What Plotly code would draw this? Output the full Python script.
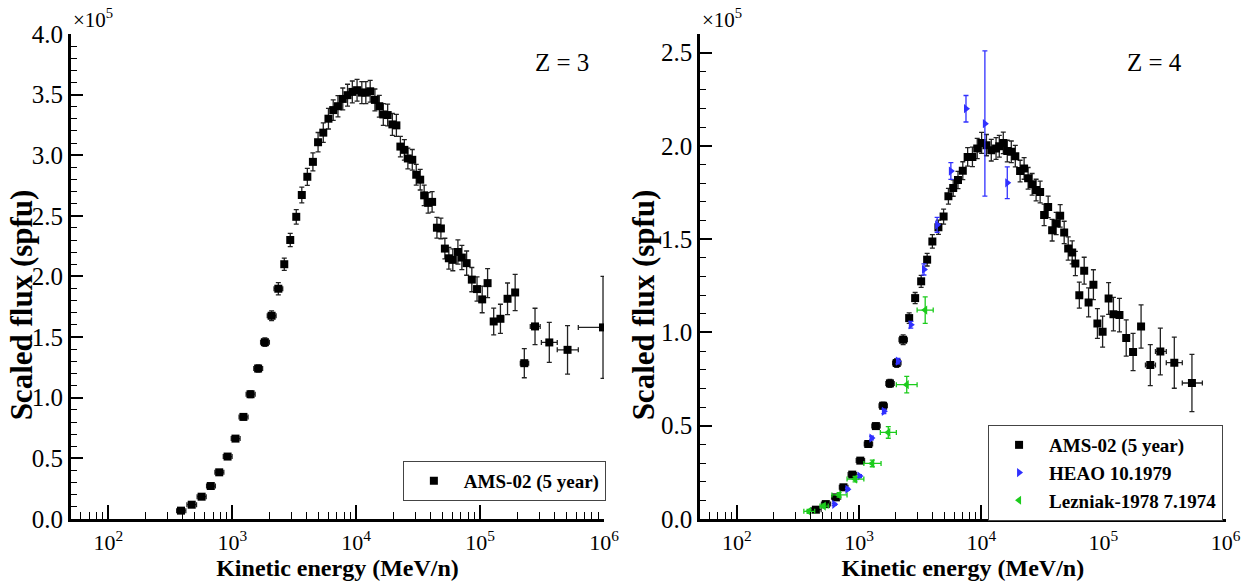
import plotly.graph_objects as go

# ---------------- Data (flux values in units of 1e5 spfu) ----------------
# Z = 3, AMS-02 (5 year)
z3_energy = [386, 471, 566, 671, 785, 917, 1062, 1231, 1405, 1618, 1834, 2078, 2355,
             2630, 2938, 3286, 3642, 4036, 4477, 4928, 5429, 5976, 6531, 7133, 7796,
             8519, 9310, 10170, 11110, 11970, 12980, 14170, 15380, 16560, 17960, 19600,
             21120, 22750, 24490, 26140, 28370, 30540, 32870, 35390, 38100, 41020, 44850,
             48300, 52000, 55990, 60270, 66250, 71300, 77900, 85800, 94500, 104000, 115000,
             128800, 146000, 166600, 191900, 227500, 277600, 362000, 508000, 982000]
z3_flux = [0.069, 0.118, 0.184, 0.272, 0.385, 0.515, 0.663, 0.842, 1.029, 1.241, 1.458, 1.676, 1.899,
           2.101, 2.301, 2.492, 2.672, 2.822, 2.945, 3.107, 3.186, 3.301, 3.372, 3.404, 3.464,
           3.495, 3.522, 3.536, 3.516, 3.516, 3.527, 3.456, 3.404, 3.336, 3.331, 3.254,
           3.246, 3.071, 3.044, 2.973, 2.962, 2.839, 2.798, 2.669, 2.607, 2.615, 2.402,
           2.396, 2.230, 2.150, 2.137, 2.202, 2.156, 2.110, 1.974, 1.896, 1.811, 1.945,
           1.629, 1.651, 1.816, 1.868, 1.285, 1.588, 1.456, 1.395, 1.580]
z3_err = [0.01, 0.012, 0.014, 0.016, 0.018, 0.02, 0.022, 0.025, 0.028, 0.03, 0.035, 0.04, 0.05,
          0.05, 0.055, 0.06, 0.065, 0.07, 0.075, 0.08, 0.08, 0.085, 0.085, 0.088, 0.09,
          0.09, 0.09, 0.09, 0.09, 0.09, 0.09, 0.09, 0.09, 0.09, 0.09, 0.09,
          0.09, 0.085, 0.085, 0.085, 0.085, 0.085, 0.085, 0.085, 0.085, 0.085, 0.085,
          0.085, 0.085, 0.09, 0.09, 0.1, 0.1, 0.1, 0.1, 0.1, 0.11, 0.12,
          0.11, 0.12, 0.13, 0.15, 0.12, 0.15, 0.165, 0.2, 0.42]
z3_ex_lo = [30, 40, 45, 50, 60, 70, 80, 95, 110, 125, 140, 160, 180] + [0] * 49 + \
           [16200, 23300, 49500, 88400, 361500]
z3_ex_hi = [36, 44, 50, 60, 70, 80, 95, 110, 125, 140, 160, 180, 200] + [0] * 49 + \
           [19100, 28000, 57600, 112500, 500000]

# Z = 4, AMS-02 (5 year)
z4_energy = [443, 534, 646, 745, 879, 1023, 1189, 1373, 1573, 1788, 2032, 2294, 2570, 2877, 3222,
             3607, 3980, 4460, 4918, 5385, 5895, 6450, 7063, 7737, 8468, 9271, 10070, 11030,
             12080, 13220, 14050, 15150, 16330, 17620, 19000, 20800, 22430, 24190, 26090,
             28120, 30340, 32720, 35290, 38050, 41040, 44260, 47740, 51490, 55530, 58950,
             63500, 69610, 75620, 82820, 89300, 98500, 110300, 120800, 135300, 153700,
             174900, 203400, 242000, 292400, 380400, 530500]
z4_flux = [0.050, 0.080, 0.116, 0.170, 0.238, 0.313, 0.402, 0.498, 0.607, 0.727, 0.836, 0.961,
           1.077, 1.184, 1.274, 1.390, 1.488, 1.564, 1.621, 1.730, 1.774, 1.817, 1.867, 1.941,
           1.941, 1.986, 2.016, 2.004, 1.977, 1.986, 1.998, 2.016, 1.972, 1.968, 1.945, 1.865,
           1.879, 1.826, 1.794, 1.763, 1.753, 1.630, 1.673, 1.548, 1.584, 1.625, 1.536, 1.450,
           1.429, 1.370, 1.200, 1.331, 1.161, 1.256, 1.048, 1.004, 1.182, 1.098, 1.093, 0.970,
           0.895, 1.032, 0.825, 0.898, 0.838, 0.729]
z4_err = [0.008, 0.009, 0.01, 0.011, 0.012, 0.013, 0.015, 0.017, 0.019, 0.021, 0.023, 0.026,
          0.028, 0.03, 0.032, 0.034, 0.036, 0.038, 0.04, 0.042, 0.044, 0.046, 0.048, 0.05,
          0.052, 0.054, 0.056, 0.057, 0.058, 0.058, 0.058, 0.058, 0.058, 0.058, 0.058, 0.058,
          0.058, 0.058, 0.058, 0.058, 0.058, 0.058, 0.058, 0.058, 0.06, 0.06, 0.06, 0.062,
          0.062, 0.065, 0.07, 0.072, 0.078, 0.08, 0.08, 0.083, 0.085, 0.09, 0.09, 0.097,
          0.1, 0.116, 0.11, 0.125, 0.137, 0.153]
z4_ex_lo = [36, 42, 50, 55, 65, 75, 85, 100, 115, 130, 150, 170] + [0] * 50 + \
           [21200, 25700, 53300, 88200]
z4_ex_hi = [46, 50, 60, 65, 75, 85, 100, 115, 130, 150, 170, 190] + [0] * 50 + \
           [24700, 34700, 61900, 115200]

# Z = 4, HEAO 10.1979
heao_energy = [627, 803, 1008, 1264, 1596, 2080, 2650, 3397, 4355, 5640, 7500, 10710, 16330]
heao_flux = [0.0786, 0.159, 0.230, 0.434, 0.577, 0.846, 1.041, 1.338, 1.577, 1.865, 2.199, 2.119, 1.802]
heao_err_hi = [0.005, 0.006, 0.008, 0.01, 0.012, 0.015, 0.018, 0.03, 0.04, 0.045, 0.071, 0.39, 0.085]
heao_err_lo = [0.005, 0.006, 0.008, 0.01, 0.012, 0.015, 0.018, 0.03, 0.04, 0.045, 0.071, 0.388, 0.085]

# Z = 4, Lezniak-1978 7.1974
lez_energy = [389, 514, 686, 927, 1282, 1734, 2455, 3476]
lez_flux = [0.041, 0.0696, 0.129, 0.214, 0.298, 0.464, 0.720, 1.120]
lez_err = [0.01, 0.01, 0.012, 0.015, 0.018, 0.031, 0.044, 0.071]
lez_ex_lo = [36, 35, 87, 130, 188, 241, 437, 491]
lez_ex_hi = [44, 45, 111, 167, 231, 284, 530, 568]

# axis tick positions
major_x = [1e2, 1e3, 1e4, 1e5, 1e6]
minor_x = [m * 10 ** d for d in range(1, 6) for m in range(2, 10) if 50 <= m * 10 ** d < 1e6]

# ---------------- Figure ----------------
FONT = "Liberation Serif"
fig = go.Figure()

def ebar(arr, arrm, color):
    return dict(type="data", symmetric=False, array=arr, arrayminus=arrm,
                color=color, thickness=1.3, width=2.5, visible=True)

fig.add_trace(go.Scatter(
    x=z3_energy, y=z3_flux, mode="markers", name="<b>AMS-02 (5 year)</b>",
    marker=dict(symbol="square", size=8, color="black"),
    error_y=ebar(z3_err, z3_err, "#222222"),
    error_x=ebar(z3_ex_hi, z3_ex_lo, "#222222"),
    xaxis="x", yaxis="y", legend="legend"))

fig.add_trace(go.Scatter(
    x=z4_energy, y=z4_flux, mode="markers", name="<b>AMS-02 (5 year)</b>",
    marker=dict(symbol="square", size=8, color="black"),
    error_y=ebar(z4_err, z4_err, "#222222"),
    error_x=ebar(z4_ex_hi, z4_ex_lo, "#222222"),
    xaxis="x2", yaxis="y2", legend="legend2"))

fig.add_trace(go.Scatter(
    x=heao_energy, y=heao_flux, mode="markers", name="<b>HEAO 10.1979</b>",
    marker=dict(symbol="triangle-right", size=8, color="#3030ff"),
    error_y=ebar(heao_err_hi, heao_err_lo, "#3030ff"),
    xaxis="x2", yaxis="y2", legend="legend2"))

fig.add_trace(go.Scatter(
    x=lez_energy, y=lez_flux, mode="markers", name="<b>Lezniak-1978 7.1974</b>",
    marker=dict(symbol="triangle-left", size=8, color="#1ccc1c"),
    error_y=ebar(lez_err, lez_err, "#1ccc1c"),
    error_x=ebar(lez_ex_hi, lez_ex_lo, "#1ccc1c"),
    xaxis="x2", yaxis="y2", legend="legend2"))

xtickfont = dict(family=FONT, size=22, color="black")
ytickfont = dict(family=FONT, size=25, color="black")
titlefont = dict(family=FONT, size=24, color="black")

def xax(domain, anchor):
    return dict(type="log", domain=domain, anchor=anchor, range=[1.69897, 6.0],
                automargin=False,
                tickmode="array", tickvals=major_x,
                ticktext=["10<sup>2</sup>", "10<sup>3</sup>", "10<sup>4</sup>",
                          "10<sup>5</sup>", "10<sup>6</sup>"],
                ticks="inside", ticklen=14, tickwidth=2, tickcolor="black",
                ticklabelstandoff=2,
                minor=dict(ticks="inside", ticklen=7, tickwidth=1, tickcolor="black",
                           tickmode="array", tickvals=minor_x),
                showline=True, linewidth=3, linecolor="black", mirror=False,
                showgrid=False, zeroline=False, tickfont=xtickfont,
                title=dict(text="<b>Kinetic energy (MeV/n)</b>", font=titlefont, standoff=4))

def yax(domain, anchor, top):
    return dict(domain=domain, anchor=anchor, range=[0, top],
                automargin=False,
                dtick=0.5, tick0=0, tickformat=".1f",
                ticks="inside", ticklen=12, tickwidth=2, tickcolor="black",
                minor=dict(ticks="inside", ticklen=6, tickwidth=1, tickcolor="black", dtick=0.1),
                showline=True, linewidth=3, linecolor="black", mirror=False,
                showgrid=False, zeroline=False, tickfont=ytickfont)

ydom = [0.1128, 0.942]
fig.update_layout(
    width=1257, height=585,
    margin=dict(l=0, r=0, t=0, b=0),
    font=dict(family=FONT, color="black"),
    paper_bgcolor="white", plot_bgcolor="white",
    xaxis=xax([0.0565, 0.4805], "y"),
    yaxis=yax(ydom, "x", 4.0),
    xaxis2=xax([0.557, 0.975], "y2"),
    yaxis2=yax(ydom, "x2", 2.6),
    legend=dict(x=0.482, y=0.212, xanchor="right", yanchor="top",
                bgcolor="white", bordercolor="#444444", borderwidth=1,
                font=dict(family=FONT, size=19, color="black"),
                itemwidth=50),
    legend2=dict(x=0.973, y=0.2735, xanchor="right", yanchor="top",
                 bgcolor="white", bordercolor="#444444", borderwidth=1,
                 font=dict(family=FONT, size=19, color="black"),
                 itemwidth=50),
    showlegend=True,
)

# y-axis titles
for xpos in (21 / 1257, 643 / 1257):
    fig.add_annotation(text="<b>Scaled flux (spfu)</b>", xref="paper", yref="paper",
                       x=xpos, y=0.478, xanchor="center", yanchor="middle",
                       textangle=-90, showarrow=False,
                       font=dict(family=FONT, size=31, color="black"))

# axis multiplier labels
for xpos in (0.0565, 0.557):
    fig.add_annotation(text="×10<sup>5</sup>", xref="paper", yref="paper",
                       x=xpos, y=0.968, xanchor="left", yanchor="middle", showarrow=False,
                       font=dict(family=FONT, size=21, color="black"))

fig.add_annotation(text="Z = 3", xref="paper", yref="paper", x=0.447, y=0.92,
                   showarrow=False, font=dict(family=FONT, size=25, color="black"))
fig.add_annotation(text="Z = 4", xref="paper", yref="paper", x=0.942, y=0.92,
                   showarrow=False, font=dict(family=FONT, size=25, color="black"))

fig.write_html("out.html")
